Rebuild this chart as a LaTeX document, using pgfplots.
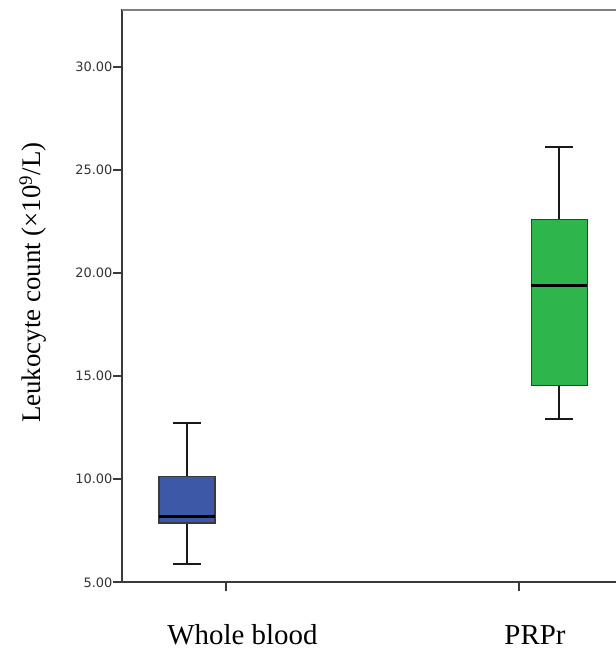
\documentclass[border=0pt]{standalone}
\usepackage{pgfplots}
\pgfplotsset{compat=1.18}
\usepackage{fontspec}
\setmainfont{Liberation Serif}
\newfontfamily\tickfont{DejaVu Sans}
\definecolor{wbblue}{HTML}{3E58A8}
\definecolor{prgreen}{HTML}{2EB54B}
\definecolor{axisgray}{HTML}{3A3A3A}
\definecolor{toplinegray}{HTML}{808080}
\definecolor{ticktext}{HTML}{333333}
\begin{document}
\begin{tikzpicture}
\begin{axis}[
  scale only axis,
  width=494bp, height=572.8bp,
  xmin=-0.357, xmax=1.3316,
  ymin=5, ymax=32.78,
  axis x line*=bottom,
  axis y line*=left,
  axis line style={-, axisgray, line width=2bp},
  tick align=outside,
  major tick length=9bp,
  tick style={axisgray, line width=2bp},
  xtick={0,1},
  xticklabels={Whole blood, PRPr},
  xticklabel style={font=\fontsize{29}{32}\selectfont, anchor=base, xshift=16bp, yshift=-53bp},
  ytick={5,10,15,20,25,30},
  yticklabel style={font=\fontsize{13}{15}\selectfont\tickfont, text=ticktext, xshift=3bp,
    /pgf/number format/.cd, fixed, fixed zerofill, precision=2, assume math mode=true},
  ylabel={Leukocyte count (×10\textsuperscript{9}/L)},
  ylabel style={font=\fontsize{27}{30}\selectfont, at={(axis description cs:-0.180,0.523)}, anchor=center},
  whisk/.style={black!90, line width=2bp, mark=none},
  boxs/.style={draw=axisgray, line width=1.3bp, mark=none},
  med/.style={black, line width=3.5bp, mark=none},
]
% Whole blood: lower whisker 5.89, Q1 7.88, median 8.18, Q3 10.13, upper whisker 12.75
\addplot[whisk] coordinates {(-0.135,10.13) (-0.135,12.75)};
\addplot[whisk] coordinates {(-0.135,7.88) (-0.135,5.89)};
\addplot[whisk] coordinates {(-0.1829,12.75) (-0.0871,12.75)};
\addplot[whisk] coordinates {(-0.1829,5.89) (-0.0871,5.89)};
\addplot[boxs, fill=wbblue] coordinates {(-0.2308,7.88) (-0.0392,7.88) (-0.0392,10.13) (-0.2308,10.13)} --cycle;
\addplot[med] coordinates {(-0.2308,8.18) (-0.0392,8.18)};
% PRPr: lower whisker 12.91, Q1 14.56, median 19.40, Q3 22.59, upper whisker 26.10
\addplot[whisk] coordinates {(1.138,22.59) (1.138,26.10)};
\addplot[whisk] coordinates {(1.138,14.56) (1.138,12.91)};
\addplot[whisk] coordinates {(1.0901,26.10) (1.1859,26.10)};
\addplot[whisk] coordinates {(1.0901,12.91) (1.1859,12.91)};
\addplot[boxs, fill=prgreen] coordinates {(1.0422,14.56) (1.2338,14.56) (1.2338,22.59) (1.0422,22.59)} --cycle;
\addplot[med] coordinates {(1.0422,19.40) (1.2338,19.40)};
\coordinate (ll) at (rel axis cs:0,0);
\coordinate (ur) at (rel axis cs:1,1);
\draw[toplinegray, line width=2.2bp] (rel axis cs:0,1) -- (rel axis cs:1,1);
\end{axis}
\pgfresetboundingbox
\useasboundingbox ([xshift=-122bp,yshift=-74.7bp]ll) rectangle ([yshift=9.5bp]ur);
\end{tikzpicture}
\end{document}
